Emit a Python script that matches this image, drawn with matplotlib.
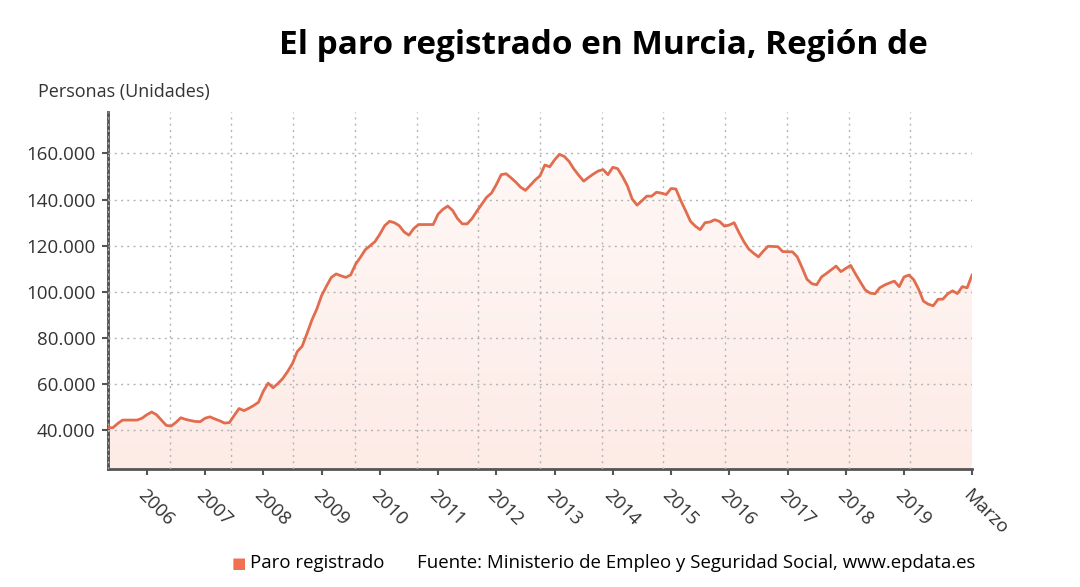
import numpy as np
import matplotlib.pyplot as plt
from matplotlib.ticker import FuncFormatter
from matplotlib.colors import LinearSegmentedColormap

# paro registrado mensual, mayo 2005 - marzo 2020
paro = [
    41200, 41200, 43000, 44500, 44500, 44500, 44500, 45300,  # 2005 (may-dic)
    46800, 48000, 46800, 44500, 42200, 41900, 43500, 45500, 44800, 44300, 43900, 43800,  # 2006
    45300, 45900, 45000, 44200, 43200, 43400, 46500, 49500, 48600, 49600, 50800, 52200,  # 2007
    57000, 60500, 58500, 60300, 62500, 65500, 69000, 74200, 76500, 82000, 87800, 92500,  # 2008
    98400, 102500, 106300, 107800, 107000, 106300, 107400, 112000, 115000, 118300, 120000, 121800,  # 2009
    125000, 128700, 130600, 130000, 128700, 126000, 124600, 127500, 129200, 129200, 129200, 129200,  # 2010
    133700, 135800, 137200, 135300, 131800, 129500, 129500, 131800, 135000, 138000, 141000, 142800,  # 2011
    146500, 150800, 151200, 149500, 147600, 145400, 144000, 146200, 148500, 150300, 155000, 154200,  # 2012
    157200, 159600, 158700, 156500, 153200, 150500, 148000, 149600, 151100, 152400, 153000, 150800,  # 2013
    154000, 153400, 150000, 146000, 140200, 137600, 139500, 141500, 141500, 143200, 142800, 142200,  # 2014
    144800, 144600, 139600, 135200, 130600, 128500, 127000, 130000, 130300, 131300, 130500, 128500,  # 2015
    129000, 130000, 125700, 121800, 118600, 116800, 115200, 117700, 119800, 119700, 119600, 117500,  # 2016
    117400, 117400, 115200, 110500, 105500, 103600, 103100, 106500, 108000, 109600, 111200, 108800,  # 2017
    110200, 111500, 107800, 104300, 100900, 99500, 99200, 101800, 103000, 103900, 104700, 102300,  # 2018
    106500, 107300, 105300, 101200, 96000, 94700, 94000, 96800, 96900, 99200, 100500, 99300,  # 2019
    102300, 101800, 107300,  # 2020 (ene-mar)
]

year_labels = [str(y) for y in range(2006, 2020)]
year_pos = [8 + 12 * k for k in range(len(year_labels))]  # enero de cada año
last_label = "Marzo"

line_color = "#e26d4e"
text_color = "#333333"

plt.rcParams["font.family"] = ["Open Sans", "DejaVu Sans"]

fig = plt.figure(figsize=(10.8, 5.87), dpi=100)
ax = fig.add_axes([0.1, 0.201, 0.8, 0.608])

ymin, ymax = 23300, 177900
x = np.arange(len(paro))

# relleno con degradado suave bajo la línea
poly = ax.fill_between(x, paro, ymin, color="none", linewidth=0)
grad = LinearSegmentedColormap.from_list("g", ["#fdebe6", "#fff8f6"])
img = ax.imshow(np.linspace(0, 1, 256).reshape(-1, 1), cmap=grad, aspect="auto",
                origin="lower", extent=[0, len(paro) - 1, ymin, max(paro)], zorder=1)
img.set_clip_path(poly.get_paths()[0], transform=ax.transData)
ax.plot(x, paro, color=line_color, linewidth=2.0, zorder=3)

ax.set_xlim(0, len(paro) - 1)
ax.set_ylim(ymin, ymax)

ax.set_yticks(range(40000, 160001, 20000))
ax.yaxis.set_major_formatter(FuncFormatter(lambda v, p: f"{int(v):,}".replace(",", ".")))
ax.set_xticks(year_pos + [len(paro) - 1])
ax.set_xticklabels(year_labels + [last_label], rotation=-45, ha="left", va="top",
                   rotation_mode="anchor")
ax.set_xticks(np.linspace(0, len(paro) - 1, 15), minor=True)

ax.set_axisbelow(False)
ax.grid(False)
ax.grid(axis="y", which="major", linestyle=(0, (1.5, 3)), color="#b5b5b5", linewidth=1, zorder=2)
ax.grid(axis="x", which="minor", linestyle=(0, (1.5, 3)), color="#b5b5b5", linewidth=1, zorder=2)
ax.tick_params(axis="x", which="minor", length=0)
ax.tick_params(axis="both", which="major", labelsize=13.5, colors="#555555",
               labelcolor=text_color, length=4, width=1.5)
ax.tick_params(axis="x", which="major", pad=8)
ax.tick_params(axis="y", which="major", pad=5)

for side in ["top", "right"]:
    ax.spines[side].set_visible(False)
ax.spines["left"].set_color("#555555")
ax.spines["left"].set_linewidth(2)
ax.spines["left"].set_linestyle((0, (1, 0.6)))
ax.spines["bottom"].set_color("#555555")
ax.spines["bottom"].set_linewidth(2)

fig.text(603 / 1080, 1 - 45 / 587, "El paro registrado en Murcia, Región de",
         ha="center", va="center", fontsize=24, fontweight="bold", color="black")
fig.text(38 / 1080, 1 - 92 / 587, "Personas (Unidades)", ha="left", va="center",
         fontsize=13, color=text_color)

fig.text(232 / 1080, 1 - 563 / 587, "\u25a0", ha="left", va="center",
         fontsize=11, color="#f07050", family=["DejaVu Sans"])
fig.text(250 / 1080, 1 - 563 / 587, "Paro registrado", ha="left", va="center",
         fontsize=13.4, color="black")
fig.text(417 / 1080, 1 - 563 / 587,
         "Fuente: Ministerio de Empleo y Seguridad Social, www.epdata.es",
         ha="left", va="center", fontsize=13.4, color="black")

fig.savefig("out.png", dpi=100, facecolor="white")
